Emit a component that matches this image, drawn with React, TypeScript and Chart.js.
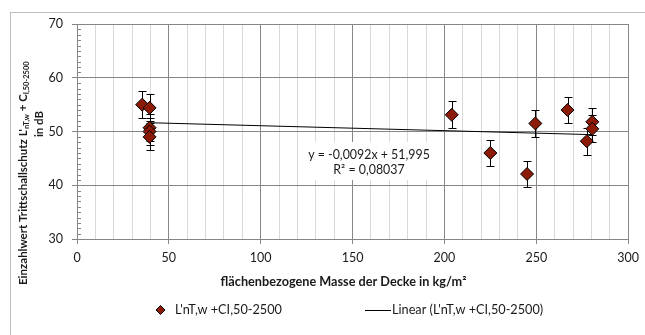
import React, { useEffect, useRef } from 'react';
import { Chart, registerables } from 'chart.js';

Chart.register(...registerables);

// ---- data ----
const massValues = [35.5, 39.5, 39.5, 39.5, 39.5, 204, 225, 245, 249.5, 267, 277.5, 280.5, 280.5];
const impactValues = [55.0, 54.4, 50.7, 50.0, 49.0, 53.1, 46.0, 42.1, 51.5, 54.0, 48.2, 51.8, 50.5];
const errorValues = [2.5, 2.5, 2.5, 2.5, 2.5, 2.5, 2.5, 2.5, 2.5, 2.5, 2.5, 2.5, 2.5];
const trendSlope = -0.0092;
const trendIntercept = 51.995;
const trendRange = [39.5, 280.5];
const xTickValues = [0, 50, 100, 150, 200, 250, 300];
const yTickValues = [30, 40, 50, 60, 70];
const seriesLabel = "L'nT,w +CI,50-2500";
const trendLabel = "Linear (L'nT,w +CI,50-2500)";
const equationText = 'y = -0,0092x + 51,995';
const r2Text = 'R² = 0,08037';
const xTitle = 'flächenbezogene Masse der Decke in kg/m²';

const FONT = 'Lato';
const MARKER = '#8b1a06';
const MAJOR = '#868686';
const MINOR = '#d9d9d9';
const TEXT = '#1a1a1a';

function diamond(ctx: CanvasRenderingContext2D, x: number, y: number, r: number) {
  ctx.beginPath();
  ctx.moveTo(x, y - r);
  ctx.lineTo(x + r, y);
  ctx.lineTo(x, y + r);
  ctx.lineTo(x - r, y);
  ctx.closePath();
  ctx.fillStyle = MARKER;
  ctx.fill();
  ctx.strokeStyle = '#000';
  ctx.lineWidth = 1;
  ctx.stroke();
}

const decorPlugin = {
  id: 'decor',
  beforeDatasetsDraw(chart: any) {
    const ctx = chart.ctx as CanvasRenderingContext2D;
    const xs = chart.scales.x;
    const ys = chart.scales.y;
    const area = chart.chartArea;
    ctx.save();
    // y minor ticks (inside)
    ctx.strokeStyle = MAJOR;
    ctx.lineWidth = 1;
    ctx.beginPath();
    for (let v = yTickValues[0]; v <= yTickValues[yTickValues.length - 1]; v += 1) {
      if (v % 10 === 0) continue;
      const py = Math.round(ys.getPixelForValue(v)) + 0.5;
      ctx.moveTo(area.left, py);
      ctx.lineTo(area.left + 4, py);
    }
    ctx.stroke();
    // error bars
    ctx.strokeStyle = '#000';
    ctx.beginPath();
    massValues.forEach((m, i) => {
      const px = Math.round(xs.getPixelForValue(m)) + 0.5;
      const top = Math.round(ys.getPixelForValue(impactValues[i] + errorValues[i])) + 0.5;
      const bot = Math.round(ys.getPixelForValue(impactValues[i] - errorValues[i])) + 0.5;
      ctx.moveTo(px, top);
      ctx.lineTo(px, bot);
      ctx.moveTo(px - 4, top);
      ctx.lineTo(px + 4, top);
      ctx.moveTo(px - 4, bot);
      ctx.lineTo(px + 4, bot);
    });
    ctx.stroke();
    ctx.restore();
  },
  afterDraw(chart: any) {
    const ctx = chart.ctx as CanvasRenderingContext2D;
    ctx.save();
    // outer frame
    ctx.strokeStyle = '#bfbfbf';
    ctx.lineWidth = 1;
    ctx.strokeRect(10.5, 12.5, 700, 400);

    // trend label with white box
    ctx.fillStyle = '#fff';
    ctx.fillRect(307, 142, 124, 38);
    ctx.fillStyle = TEXT;
    ctx.font = `12.4px ${FONT}`;
    ctx.textAlign = 'center';
    ctx.textBaseline = 'middle';
    ctx.fillText(equationText, 369, 155);
    ctx.fillText(r2Text, 369, 170);

    // x title
    ctx.font = `bold 12.7px ${FONT}`;
    ctx.fillText(xTitle, 343.5, 282);

    // y title (rotated, with subscripts)
    ctx.save();
    ctx.translate(23, 285);
    ctx.rotate(-Math.PI / 2);
    ctx.textAlign = 'left';
    ctx.textBaseline = 'middle';
    let cx = 0;
    const parts: [string, boolean][] = [
      ["Einzahlwert Trittschallschutz L'", false],
      ['nT,w', true],
      [' + C', false],
      ['I,50-2500', true],
    ];
    for (const [t, sub] of parts) {
      ctx.font = sub ? `bold 7.5px ${FONT}` : `bold 11.5px ${FONT}`;
      ctx.fillText(t, cx, sub ? 3.5 : 0);
      cx += ctx.measureText(t).width;
    }
    ctx.restore();
    ctx.save();
    ctx.translate(39, 124);
    ctx.rotate(-Math.PI / 2);
    ctx.textAlign = 'center';
    ctx.textBaseline = 'middle';
    ctx.font = `bold 11.5px ${FONT}`;
    ctx.fillText('in dB', 0, 0);
    ctx.restore();

    // legend
    diamond(ctx, 160.5, 310, 4.5);
    ctx.fillStyle = TEXT;
    ctx.font = `12.7px ${FONT}`;
    ctx.textAlign = 'left';
    ctx.textBaseline = 'middle';
    ctx.fillText(seriesLabel, 175, 310);
    ctx.strokeStyle = '#000';
    ctx.beginPath();
    ctx.moveTo(365, 310.5);
    ctx.lineTo(391, 310.5);
    ctx.stroke();
    ctx.fillText(trendLabel, 392, 310);
    ctx.restore();
  },
};

export default function App() {
  const ref = useRef<HTMLCanvasElement | null>(null);
  useEffect(() => {
    if (!ref.current) return;
    const chart = new Chart(ref.current, {
      type: 'scatter',
      data: {
        datasets: [
          {
            label: seriesLabel,
            data: massValues.map((m, i) => ({ x: m, y: impactValues[i] })),
            pointStyle: 'rectRot',
            pointRadius: 6.5,
            pointBackgroundColor: MARKER,
            pointBorderColor: '#000',
            pointBorderWidth: 1,
            showLine: false,
          },
          {
            type: 'line',
            label: trendLabel,
            data: trendRange.map((x) => ({ x, y: trendSlope * x + trendIntercept })),
            borderColor: '#000',
            borderWidth: 1,
            pointRadius: 0,
            fill: false,
          } as any,
        ],
      },
      options: {
        animation: false,
        responsive: false,
        events: [],
        layout: { padding: { left: 0, right: 15, top: 24, bottom: 0 } },
        plugins: { legend: { display: false }, tooltip: { enabled: false }, title: { display: false } },
        scales: {
          x: {
            type: 'linear',
            min: 0,
            max: 300,
            afterFit: (s: any) => { s.height = 96; },
            afterBuildTicks: (s: any) => {
              const t = [];
              for (let v = 0; v <= 300; v += 10) t.push({ value: v });
              s.ticks = t;
            },
            ticks: {
              autoSkip: false,
              maxRotation: 0,
              padding: 6,
              color: TEXT,
              font: { family: FONT, size: 12.5 },
              callback: (v: any) => (xTickValues.includes(Number(v)) ? String(v) : ''),
            },
            grid: {
              color: (c: any) => (c.tick && c.tick.value % 50 === 0 ? MAJOR : MINOR),
              tickColor: (c: any) => (c.tick && c.tick.value % 50 === 0 ? MAJOR : 'rgba(0,0,0,0)'),
              tickLength: 5,
            },
            border: { color: MAJOR },
          },
          y: {
            type: 'linear',
            min: 30,
            max: 70,
            afterFit: (s: any) => { s.width = 77; },
            afterBuildTicks: (s: any) => { s.ticks = yTickValues.map((v) => ({ value: v })); },
            ticks: {
              padding: 9,
              color: TEXT,
              font: { family: FONT, size: 12.5 },
            },
            grid: { color: MAJOR, tickColor: MAJOR, tickLength: 5 },
            border: { color: MAJOR },
          },
        },
      },
      plugins: [decorPlugin],
    });
    return () => chart.destroy();
  }, []);
  return (
    <div style={{ position: 'absolute', left: 0, top: 0, width: 645, height: 335, background: '#fff' }}>
      <canvas ref={ref} width={645} height={335} style={{ width: 645, height: 335, display: 'block' }} />
    </div>
  );
}
